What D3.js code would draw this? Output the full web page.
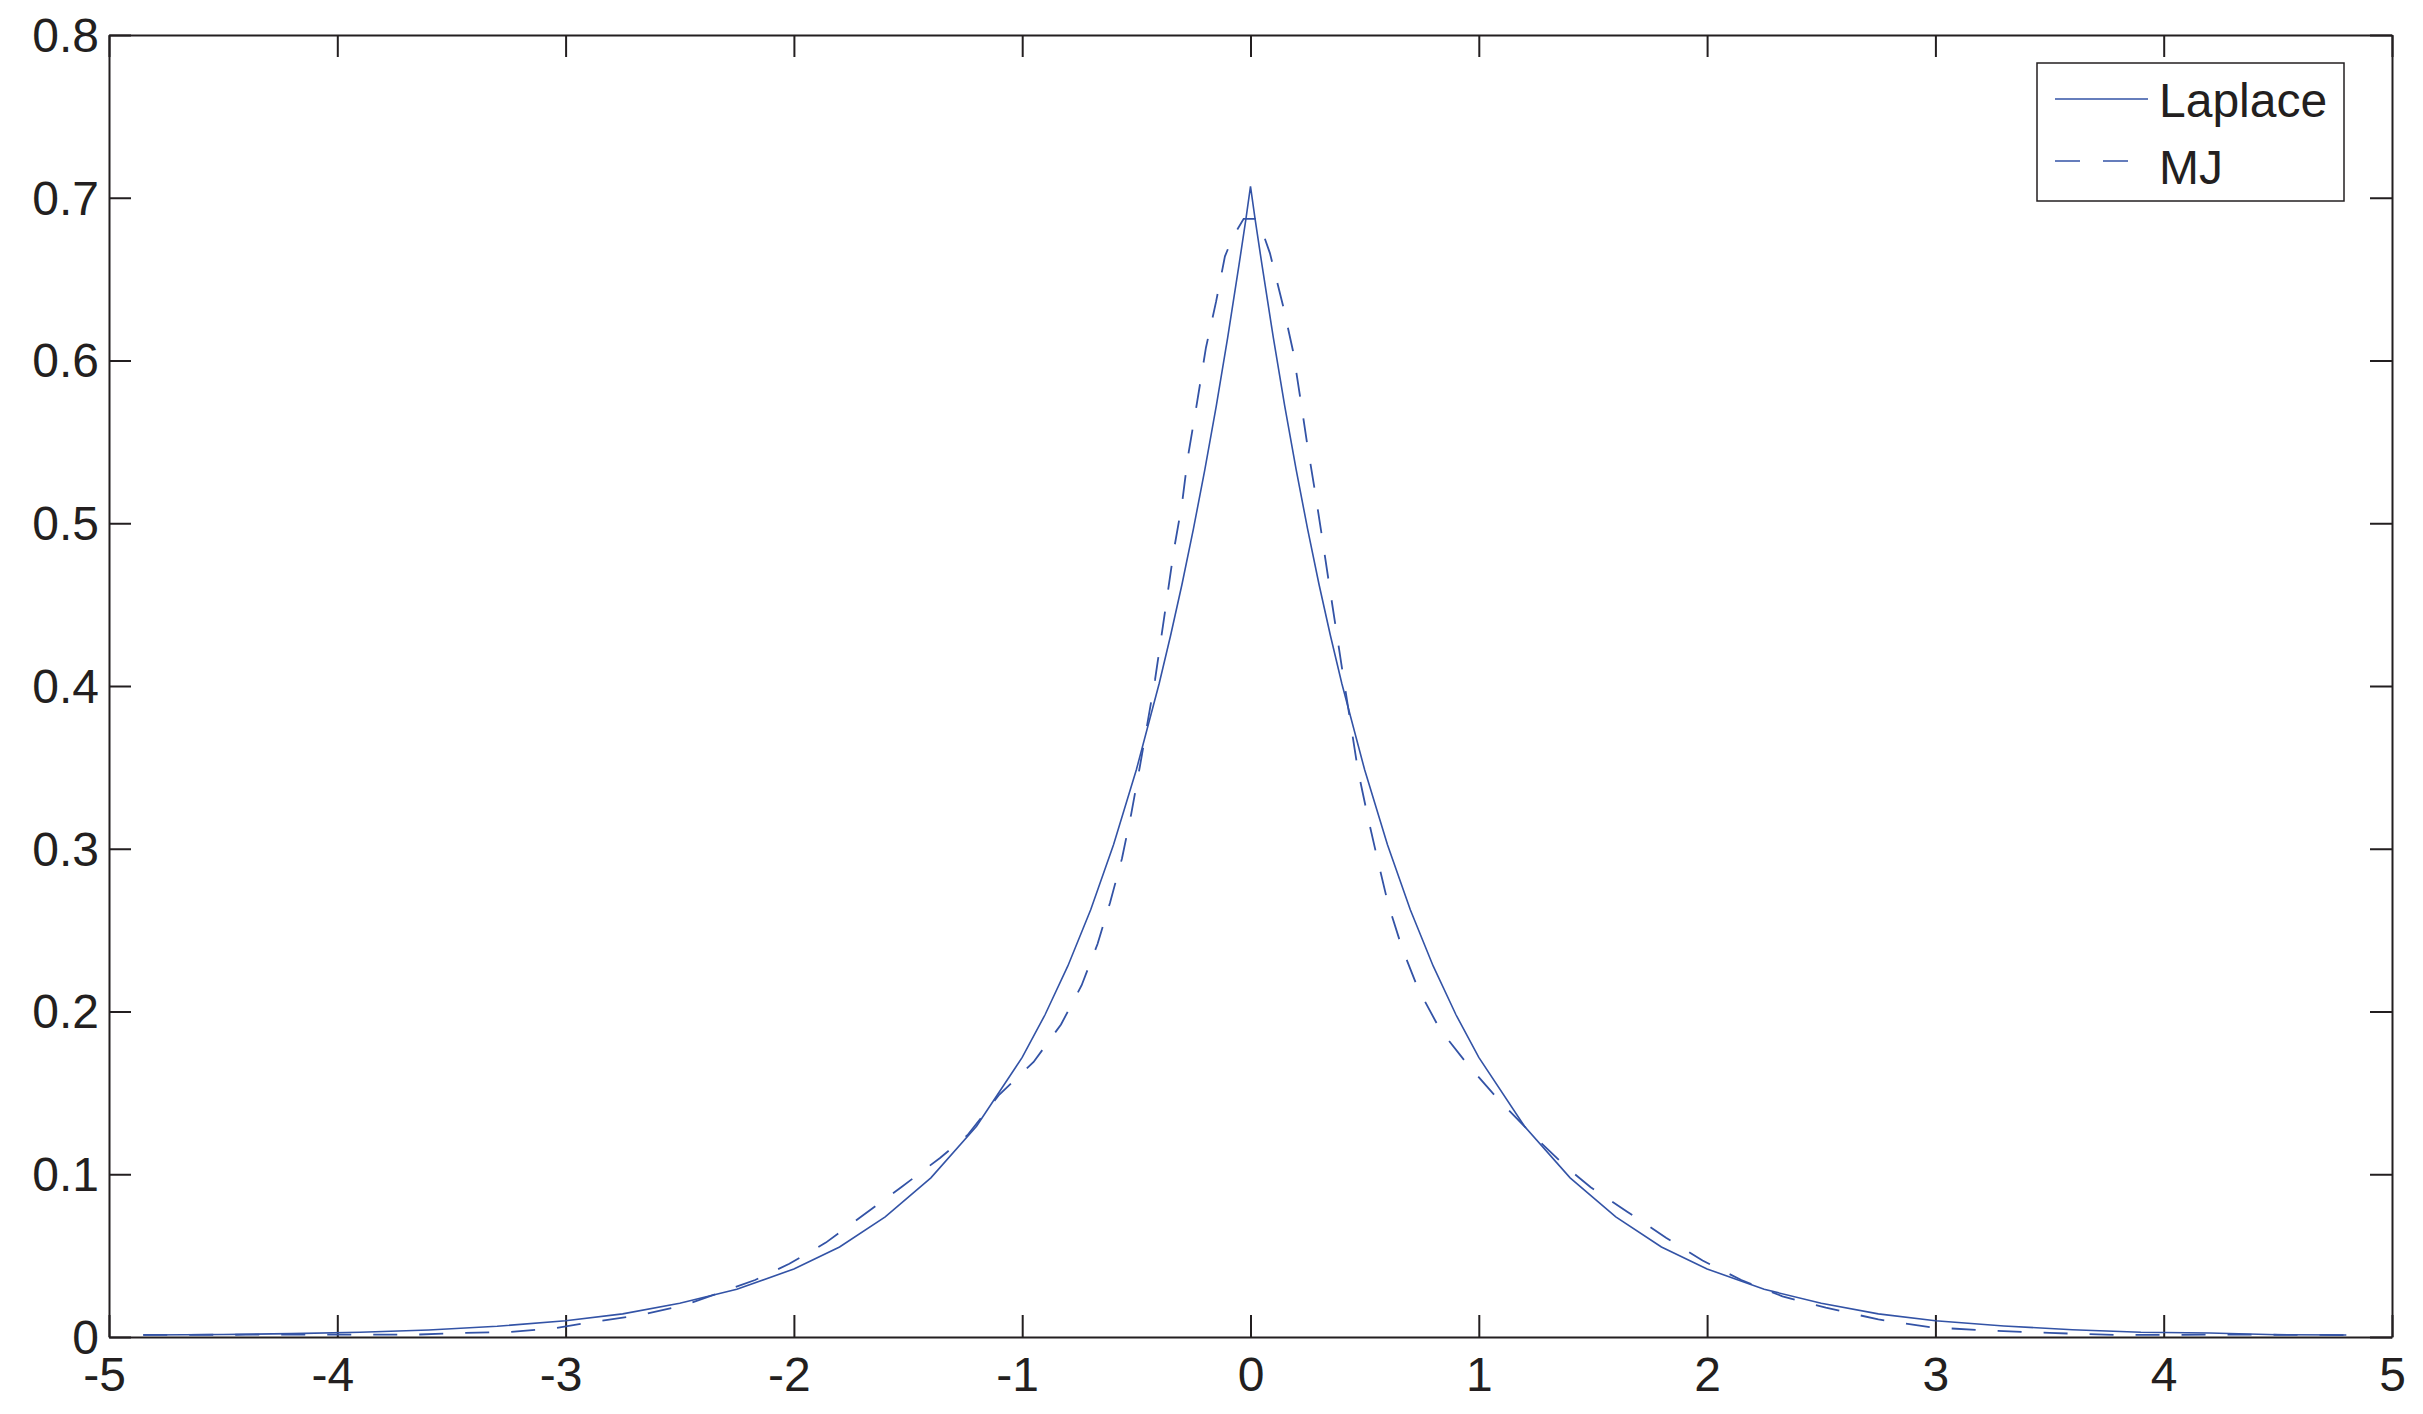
<!DOCTYPE html>
<html>
<head>
<meta charset="utf-8">
<script src="https://cdn.jsdelivr.net/npm/d3@7"></script>
<style>
  body { margin: 0; background: #fff; }
  svg { display: block; }
</style>
</head>
<body>
<div id="chart"></div>
<script>
// Tick values
const xTicks = [-5, -4, -3, -2, -1, 0, 1, 2, 3, 4, 5];
const yTicks = [0, 0.1, 0.2, 0.3, 0.4, 0.5, 0.6, 0.7, 0.8];

// Laplace density (solid line)
const laplaceX = [-4.85, -4.5, -4.2, -3.9, -3.6, -3.3, -3.0, -2.75, -2.5, -2.25, -2.0, -1.8, -1.6, -1.4, -1.2,
  -1.0, -0.9, -0.8, -0.7, -0.6, -0.5, -0.4, -0.35, -0.3, -0.25, -0.2, -0.15, -0.1, -0.05, -0.02, 0,
  0.02, 0.05, 0.1, 0.15, 0.2, 0.25, 0.3, 0.35, 0.4, 0.5, 0.6, 0.7, 0.8, 0.9, 1.0,
  1.2, 1.4, 1.6, 1.8, 2.0, 2.25, 2.5, 2.75, 3.0, 3.3, 3.6, 3.9, 4.2, 4.5, 4.8];
const laplaceY = [0.0012, 0.0015, 0.0021, 0.0029, 0.0043, 0.0066, 0.0100, 0.0142, 0.0207, 0.0293, 0.0418, 0.0553, 0.0738, 0.0978, 0.1295,
  0.1718, 0.1980, 0.2280, 0.2625, 0.3025, 0.3485, 0.4015, 0.4310, 0.4625, 0.4965, 0.5330, 0.5720, 0.6140, 0.6590, 0.6870, 0.7070,
  0.6870, 0.6590, 0.6140, 0.5720, 0.5330, 0.4965, 0.4625, 0.4310, 0.4015, 0.3485, 0.3025, 0.2625, 0.2280, 0.1980, 0.1718,
  0.1295, 0.0978, 0.0738, 0.0553, 0.0418, 0.0293, 0.0207, 0.0142, 0.0100, 0.0068, 0.0045, 0.0029, 0.0025, 0.0014, 0.0012];

// MJ estimate (dashed line)
const mjX = [-4.85, -4.4, -3.9, -3.65, -3.45, -3.25, -3.05, -2.87, -2.67, -2.48, -2.3, -2.17, -2.02, -1.86, -1.7,
  -1.53, -1.36, -1.24, -1.1, -0.95, -0.83, -0.74, -0.67, -0.615, -0.563, -0.523, -0.484, -0.418, -0.37, -0.335,
  -0.3, -0.274, -0.239, -0.195, -0.151, -0.112, -0.077, -0.03, 0.02, 0.05, 0.085, 0.142, 0.186, 0.217, 0.248,
  0.282, 0.313, 0.344, 0.405, 0.471, 0.514, 0.558, 0.603, 0.664, 0.734, 0.83, 0.948, 1.085, 1.238, 1.386,
  1.49, 1.65, 1.82, 1.98, 2.15, 2.33, 2.52, 2.75, 2.98, 3.18, 3.5, 3.8, 4.3, 4.8];
const mjY = [0.0013, 0.0014, 0.0014, 0.0015, 0.0025, 0.0030, 0.0053, 0.0095, 0.0135, 0.0195, 0.0285, 0.0350, 0.0450, 0.0580, 0.0745,
  0.0920, 0.1100, 0.1240, 0.1490, 0.1690, 0.1920, 0.2160, 0.2415, 0.2670, 0.2940, 0.3210, 0.3510, 0.4040, 0.4500, 0.4840,
  0.5120, 0.5410, 0.5700, 0.6080, 0.6360, 0.6640, 0.6760, 0.6870, 0.6870, 0.6800, 0.6660, 0.6340, 0.6060, 0.5780, 0.5490,
  0.5200, 0.4920, 0.4630, 0.4070, 0.3480, 0.3195, 0.2925, 0.2660, 0.2390, 0.2140, 0.1890, 0.1680, 0.1460, 0.1240, 0.1040,
  0.0920, 0.0770, 0.0610, 0.0470, 0.0350, 0.0250, 0.0180, 0.0108, 0.0060, 0.0043, 0.0025, 0.0012, 0.0015, 0.0012];

const seriesNames = ['Laplace', 'MJ'];

const W = 2423, H = 1414;
const plot = { left: 109, right: 2392, top: 35, bottom: 1337 };
const ink = '#231f20';
const lineColor = '#3353a6';
const font = '"Liberation Sans", Arial, sans-serif';

const svg = d3.select('#chart').append('svg')
  .attr('width', W)
  .attr('height', H)
  .style('background', '#fff');

const x = d3.scaleLinear().domain([-5, 5]).range([plot.left, plot.right]);
const y = d3.scaleLinear().domain([0, 0.8]).range([plot.bottom, plot.top]);

// Axes, ticks pointing inward on all four sides
const styleAxis = g => {
  g.attr('font-family', font).attr('font-size', 48);
  g.select('.domain').attr('stroke', ink).attr('stroke-width', 2);
  g.selectAll('.tick line').attr('stroke', ink).attr('stroke-width', 2);
  g.selectAll('.tick text').attr('fill', ink);
};

svg.append('g')
  .attr('transform', `translate(0,${plot.bottom})`)
  .call(d3.axisBottom(x).tickValues(xTicks).tickSizeInner(-22).tickSizeOuter(0).tickPadding(20).tickFormat(d => String(d)))
  .call(styleAxis)
  .selectAll('.tick text')
  .attr('dx', d => d < 0 ? -5 : 0);

svg.append('g')
  .attr('transform', `translate(0,${plot.top})`)
  .call(d3.axisTop(x).tickValues(xTicks).tickSizeInner(-22).tickSizeOuter(0).tickFormat(''))
  .call(styleAxis);

svg.append('g')
  .attr('transform', `translate(${plot.left},0)`)
  .call(d3.axisLeft(y).tickValues(yTicks).tickSizeInner(-22).tickSizeOuter(0).tickPadding(10).tickFormat(d => String(d)))
  .call(styleAxis)
  .selectAll('.tick text')
  .attr('dy', '0.34em');

svg.append('g')
  .attr('transform', `translate(${plot.right},0)`)
  .call(d3.axisRight(y).tickValues(yTicks).tickSizeInner(-22).tickSizeOuter(0).tickFormat(''))
  .call(styleAxis);

// Curves
const line = d3.line()
  .x(d => x(d[0]))
  .y(d => y(d[1]));

svg.append('path')
  .datum(laplaceX.map((v, i) => [v, laplaceY[i]]))
  .attr('fill', 'none')
  .attr('stroke', lineColor)
  .attr('stroke-width', 1.6)
  .attr('d', line);

svg.append('path')
  .datum(mjX.map((v, i) => [v, mjY[i]]))
  .attr('fill', 'none')
  .attr('stroke', lineColor)
  .attr('stroke-width', 1.8)
  .attr('stroke-dasharray', '24,22')
  .attr('d', line);

// Legend
const legend = svg.append('g');
legend.append('rect')
  .attr('x', 2037)
  .attr('y', 63)
  .attr('width', 307)
  .attr('height', 138)
  .attr('fill', '#fff')
  .attr('stroke', ink)
  .attr('stroke-width', 1.5);

const legendLineY = [99, 161];
const legendTextY = [117, 184];
seriesNames.forEach((name, i) => {
  legend.append('line')
    .attr('x1', 2055)
    .attr('x2', 2148)
    .attr('y1', legendLineY[i])
    .attr('y2', legendLineY[i])
    .attr('stroke', lineColor)
    .attr('stroke-width', 1.4)
    .attr('stroke-dasharray', i === 1 ? '25,23' : null);
  legend.append('text')
    .attr('x', 2159)
    .attr('y', legendTextY[i])
    .attr('font-family', font)
    .attr('font-size', 48)
    .attr('fill', ink)
    .text(name);
});
</script>
</body>
</html>
